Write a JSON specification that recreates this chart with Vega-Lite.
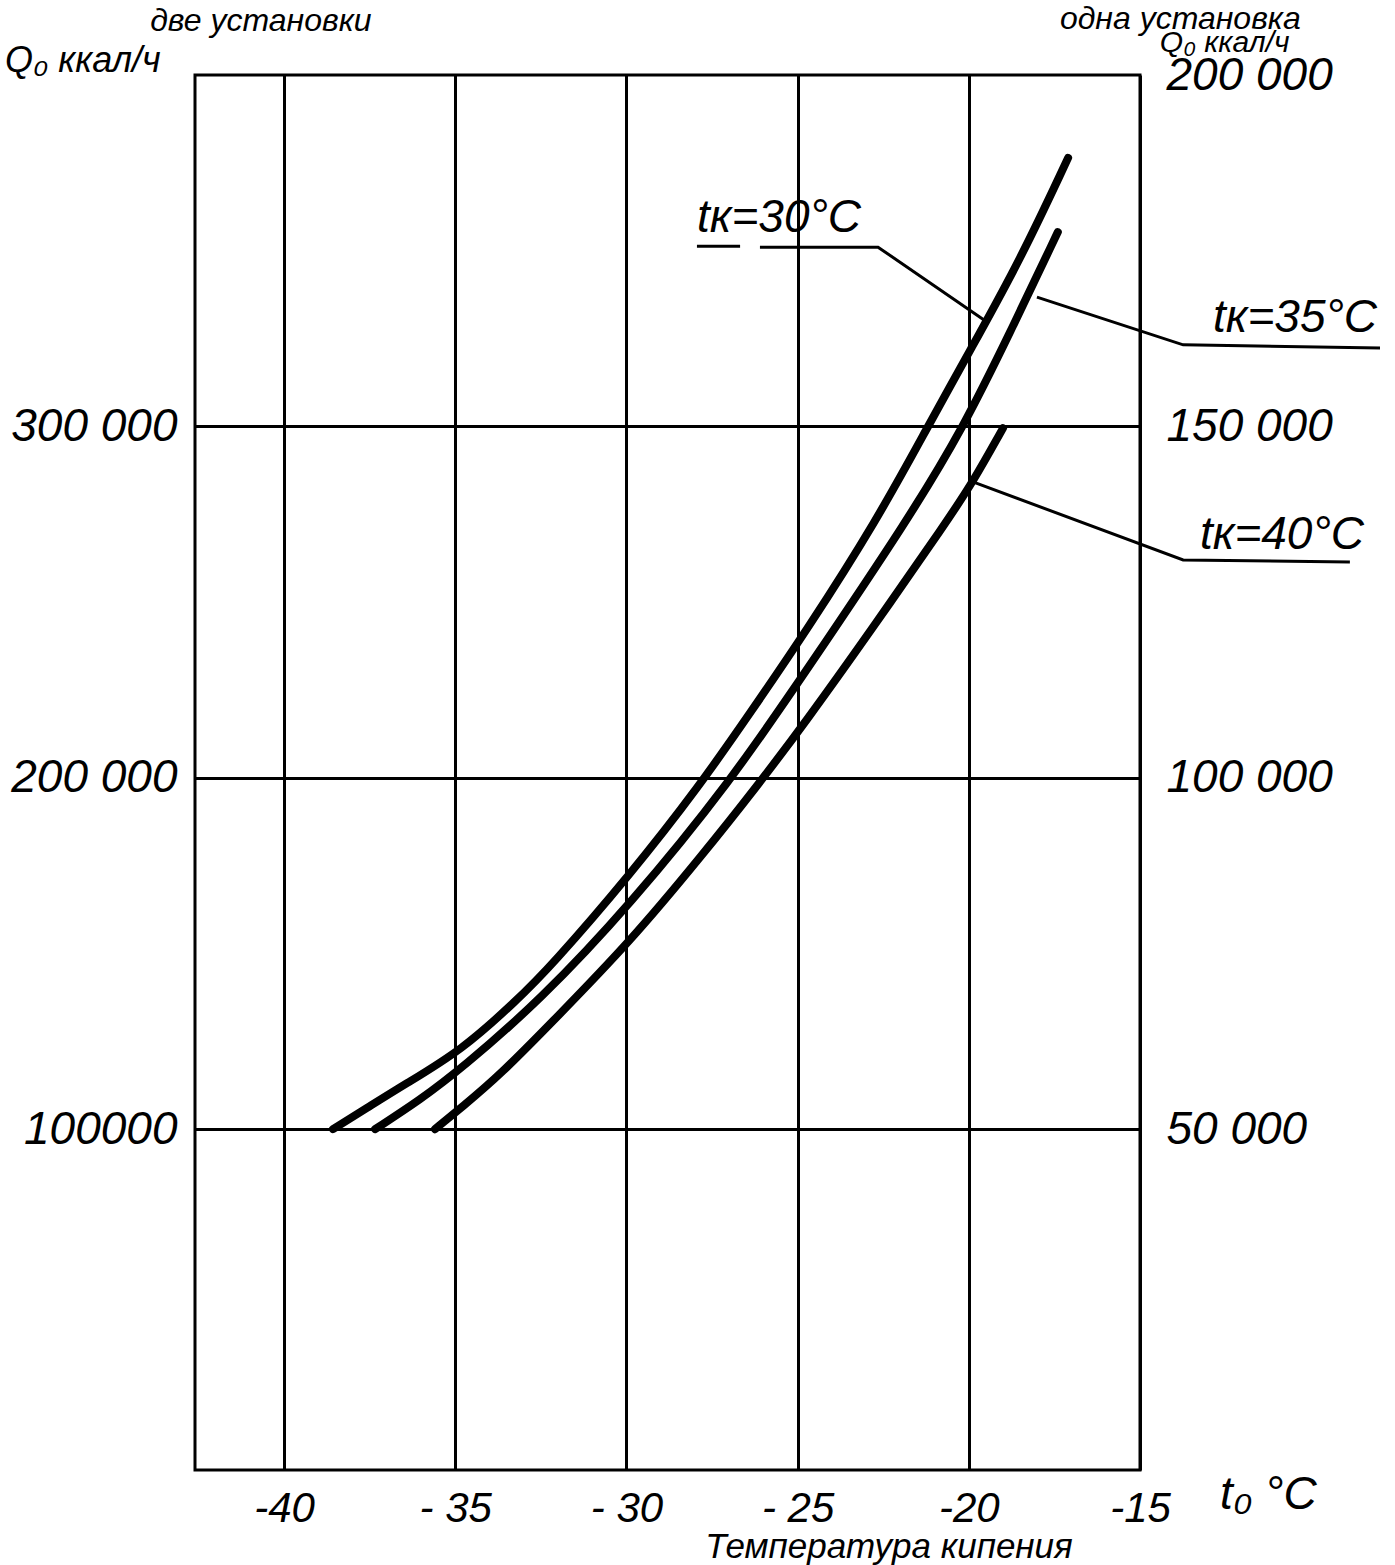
{
  "$schema": "https://vega.github.io/schema/vega-lite/v6.json",
  "width": 945,
  "height": 1395,
  "autosize": "none",
  "padding": {"left": 195, "top": 75, "right": 255, "bottom": 95},
  "background": "white",
  "config": {
    "view": {"stroke": "black", "strokeWidth": 3},
    "axis": {
      "labelColor": "black",
      "labelFont": "Liberation Sans",
      "labelFontStyle": "italic",
      "labelFontWeight": "normal",
      "labelFlush": false,
      "labelOverlap": false,
      "labelLimit": 500,
      "ticks": false,
      "domain": false,
      "gridColor": "black",
      "gridOpacity": 1,
      "gridWidth": 3,
      "title": null
    }
  },
  "layer": [
    {
      "layer": [
        {
          "data": {"values": [
            {"tk": "30", "i": 1, "t": -38.57, "q": 100000},
            {"tk": "30", "i": 2, "t": -37.58, "q": 106000},
            {"tk": "30", "i": 3, "t": -36.50, "q": 112600},
            {"tk": "30", "i": 4, "t": -34.80, "q": 122500},
            {"tk": "30", "i": 5, "t": -33.20, "q": 136700},
            {"tk": "30", "i": 6, "t": -32.23, "q": 146100},
            {"tk": "30", "i": 7, "t": -29.90, "q": 172300},
            {"tk": "30", "i": 8, "t": -27.85, "q": 197900},
            {"tk": "30", "i": 9, "t": -26.39, "q": 218400},
            {"tk": "30", "i": 10, "t": -24.73, "q": 242000},
            {"tk": "30", "i": 11, "t": -22.68, "q": 273400},
            {"tk": "30", "i": 12, "t": -21.22, "q": 299500},
            {"tk": "30", "i": 13, "t": -19.97, "q": 321500},
            {"tk": "30", "i": 14, "t": -18.50, "q": 347300},
            {"tk": "30", "i": 15, "t": -17.10, "q": 376400},
            {"tk": "35", "i": 1, "t": -37.34, "q": 100000},
            {"tk": "35", "i": 2, "t": -36.03, "q": 108300},
            {"tk": "35", "i": 3, "t": -34.80, "q": 117400},
            {"tk": "35", "i": 4, "t": -32.52, "q": 136700},
            {"tk": "35", "i": 5, "t": -29.90, "q": 163800},
            {"tk": "35", "i": 6, "t": -26.97, "q": 198800},
            {"tk": "35", "i": 7, "t": -24.73, "q": 230700},
            {"tk": "35", "i": 8, "t": -21.78, "q": 273400},
            {"tk": "35", "i": 9, "t": -20.17, "q": 299500},
            {"tk": "35", "i": 10, "t": -18.80, "q": 326600},
            {"tk": "35", "i": 11, "t": -17.40, "q": 355300},
            {"tk": "40", "i": 1, "t": -35.59, "q": 100000},
            {"tk": "40", "i": 2, "t": -34.80, "q": 106300},
            {"tk": "40", "i": 3, "t": -33.69, "q": 115400},
            {"tk": "40", "i": 4, "t": -32.03, "q": 131900},
            {"tk": "40", "i": 5, "t": -29.90, "q": 153300},
            {"tk": "40", "i": 6, "t": -27.85, "q": 177200},
            {"tk": "40", "i": 7, "t": -26.16, "q": 197900},
            {"tk": "40", "i": 8, "t": -24.73, "q": 216400},
            {"tk": "40", "i": 9, "t": -22.89, "q": 241500},
            {"tk": "40", "i": 10, "t": -20.61, "q": 273400},
            {"tk": "40", "i": 11, "t": -19.88, "q": 284200},
            {"tk": "40", "i": 12, "t": -19.00, "q": 299500}
          ]},
          "mark": {"type": "line", "color": "black", "strokeWidth": 8, "strokeCap": "round", "interpolate": "basis"},
          "encoding": {
            "x": {
              "field": "t", "type": "quantitative",
              "scale": {"domain": [-42.6, -15], "nice": false, "zero": false},
              "axis": {
                "values": [-40, -35, -30, -25, -20, -15],
                "grid": true,
                "labelFontSize": 42,
                "labelPadding": 18,
                "labelExpr": "datum.value == -35 || datum.value == -30 || datum.value == -25 ? '- ' + abs(datum.value) : '-' + abs(datum.value)"
              }
            },
            "y": {
              "field": "q", "type": "quantitative",
              "scale": {"domain": [3000, 400000], "nice": false, "zero": false},
              "axis": {
                "values": [100000, 200000, 300000],
                "grid": true,
                "labelFontSize": 46,
                "labelPadding": 18,
                "labelExpr": "datum.value == 100000 ? '100000' : datum.value == 200000 ? '200 000' : '300 000'"
              }
            },
            "detail": {"field": "tk"},
            "order": {"field": "i", "type": "quantitative"}
          }
        },
        {
          "data": {"values": [
            {"g": "u30", "i": 1, "t": -27.94, "q": 351300},
            {"g": "u30", "i": 2, "t": -26.68, "q": 351300},
            {"g": "l30", "i": 1, "t": -26.10, "q": 351000},
            {"g": "l30", "i": 2, "t": -22.65, "q": 351000},
            {"g": "l30", "i": 3, "t": -19.47, "q": 329700},
            {"g": "l35", "i": 1, "t": -18.01, "q": 336800},
            {"g": "l35", "i": 2, "t": -13.74, "q": 323200},
            {"g": "l35", "i": 3, "t": -7.99, "q": 322300},
            {"g": "l40", "i": 1, "t": -19.88, "q": 284200},
            {"g": "l40", "i": 2, "t": -13.74, "q": 262000},
            {"g": "l40", "i": 3, "t": -8.87, "q": 261400}
          ]},
          "mark": {"type": "line", "color": "black", "strokeWidth": 3},
          "encoding": {
            "x": {"field": "t", "type": "quantitative"},
            "y": {"field": "q", "type": "quantitative"},
            "detail": {"field": "g"},
            "order": {"field": "i", "type": "quantitative"}
          }
        },
        {
          "data": {"values": [
            {"t": -27.94, "q": 359300, "label": "tк=30°C"},
            {"t": -12.87, "q": 330800, "label": "tк=35°C"},
            {"t": -13.25, "q": 269100, "label": "tк=40°C"}
          ]},
          "mark": {"type": "text", "align": "left", "baseline": "middle", "fontSize": 46, "fontStyle": "italic", "font": "Liberation Sans", "color": "black"},
          "encoding": {
            "x": {"field": "t", "type": "quantitative"},
            "y": {"field": "q", "type": "quantitative"},
            "text": {"field": "label"}
          }
        },
        {
          "data": {"values": [
            {"t": -43.91, "q": 415400, "label": "две установки"},
            {"t": -17.34, "q": 416000, "label": "одна установка"}
          ]},
          "mark": {"type": "text", "align": "left", "baseline": "middle", "fontSize": 32, "fontStyle": "italic", "font": "Liberation Sans", "color": "black"},
          "encoding": {
            "x": {"field": "t", "type": "quantitative"},
            "y": {"field": "q", "type": "quantitative"},
            "text": {"field": "label"}
          }
        },
        {
          "data": {"values": [
            {"t": -48.15, "q": 404000, "label": "Q₀ ккал/ч"}
          ]},
          "mark": {"type": "text", "align": "left", "baseline": "middle", "fontSize": 36, "fontStyle": "italic", "font": "Liberation Sans", "color": "black"},
          "encoding": {
            "x": {"field": "t", "type": "quantitative"},
            "y": {"field": "q", "type": "quantitative"},
            "text": {"field": "label"}
          }
        },
        {
          "data": {"values": [
            {"t": -14.42, "q": 409200, "label": "Q₀ ккал/ч"}
          ]},
          "mark": {"type": "text", "align": "left", "baseline": "middle", "fontSize": 30, "fontStyle": "italic", "font": "Liberation Sans", "color": "black"},
          "encoding": {
            "x": {"field": "t", "type": "quantitative"},
            "y": {"field": "q", "type": "quantitative"},
            "text": {"field": "label"}
          }
        },
        {
          "data": {"values": [
            {"t": -12.66, "q": -4100, "label": "t₀ °C"}
          ]},
          "mark": {"type": "text", "align": "left", "baseline": "middle", "fontSize": 46, "fontStyle": "italic", "font": "Liberation Sans", "color": "black"},
          "encoding": {
            "x": {"field": "t", "type": "quantitative"},
            "y": {"field": "q", "type": "quantitative"},
            "text": {"field": "label"}
          }
        },
        {
          "data": {"values": [
            {"t": -27.70, "q": -19000, "label": "Температура кипения"}
          ]},
          "mark": {"type": "text", "align": "left", "baseline": "middle", "fontSize": 35, "fontStyle": "italic", "font": "Liberation Sans", "color": "black"},
          "encoding": {
            "x": {"field": "t", "type": "quantitative"},
            "y": {"field": "q", "type": "quantitative"},
            "text": {"field": "label"}
          }
        }
      ]
    },
    {
      "data": {"values": [{"q": 100000}]},
      "mark": {"type": "point", "opacity": 0},
      "encoding": {
        "y": {
          "field": "q", "type": "quantitative",
          "scale": {"domain": [3000, 400000], "nice": false, "zero": false},
          "axis": {
            "orient": "right",
            "values": [100000, 200000, 300000, 400000],
            "grid": false,
            "labelFontSize": 46,
            "labelPadding": 26,
            "labelExpr": "datum.value == 100000 ? '50 000' : datum.value == 200000 ? '100 000' : datum.value == 300000 ? '150 000' : '200 000'"
          }
        }
      }
    }
  ],
  "resolve": {"scale": {"y": "independent"}}
}
